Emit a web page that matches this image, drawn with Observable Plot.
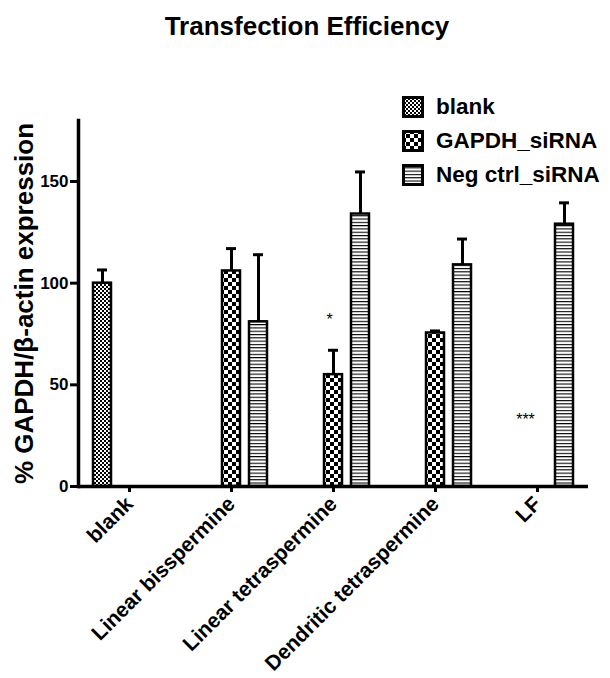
<!DOCTYPE html>
<html>
<head>
<meta charset="utf-8">
<script src="https://cdn.jsdelivr.net/npm/d3@7"></script>
<script src="https://cdn.jsdelivr.net/npm/@observablehq/plot@0.6"></script>
<style>
  html, body { margin: 0; padding: 0; background: white; }
  body { width: 610px; height: 678px; overflow: hidden; font-family: "Liberation Sans", Arial, sans-serif; }
  #title { height: 70px; box-sizing: border-box; padding-top: 13px; text-align: center; font-size: 26px; line-height: 26px; font-weight: bold; color: #000; padding-left: 4px; }
  #chart { position: relative; width: 610px; height: 608px; }
  #legend .row { position: absolute; left: 402px; height: 22px; display: flex; align-items: center; white-space: nowrap; }
  #legend .row span { margin-left: 12px; font-size: 22.5px; font-weight: bold; line-height: 22px; }
</style>
</head>
<body>
<svg width="0" height="0" style="position:absolute">
  <defs>
    <pattern id="pat0" patternUnits="userSpaceOnUse" width="4" height="4">
      <rect width="4" height="4" fill="white"/>
      <rect x="0" y="0" width="2" height="2" fill="black"/>
      <rect x="2" y="2" width="2" height="2" fill="black"/>
    </pattern>
    <pattern id="pat1" patternUnits="userSpaceOnUse" width="8" height="8">
      <rect width="8" height="8" fill="white"/>
      <rect x="0" y="0" width="4" height="4" fill="black"/>
      <rect x="4" y="4" width="4" height="4" fill="black"/>
    </pattern>
    <pattern id="pat2" patternUnits="userSpaceOnUse" width="6" height="3.3">
      <rect width="6" height="3.3" fill="white"/>
      <rect x="0" y="0" width="6" height="1.1" fill="black"/>
    </pattern>
  </defs>
</svg>
<div id="title">Transfection Efficiency</div>
<div id="chart"><div id="legend"></div></div>
<script>
// ---- data ----
const categories = ["blank", "Linear bisspermine", "Linear tetraspermine", "Dendritic tetraspermine", "LF"];
const series = ["blank", "GAPDH_siRNA", "Neg ctrl_siRNA"];
const blankValues = [100, null, null, null, null];
const gapdhValues = [null, 106, 55, 75.5, null];
const negValues   = [null, 81, 134, 109, 129];
const blankErr = [6.5, null, null, null, null];
const gapdhErr = [null, 11, 12, 1, null];
const negErr   = [null, 33, 20.7, 12.7, 10.5];
const yTicks = [0, 50, 100, 150];
const annotations = [
  {cat: "Linear tetraspermine", series: "GAPDH_siRNA", y: 82, label: "*"},
  {cat: "LF", series: "GAPDH_siRNA", y: 33, label: "***"}
];

const valueSets = [blankValues, gapdhValues, negValues];
const errSets = [blankErr, gapdhErr, negErr];
const rows = [];
categories.forEach((c, i) => series.forEach((s, j) => {
  const v = valueSets[j][i];
  if (v != null) rows.push({cat: c, series: s, value: v, err: errSets[j][i] || 0});
}));

const font = "'Liberation Sans', Arial, sans-serif";

const plot = Plot.plot({
  width: 610, height: 608,
  marginLeft: 76, marginRight: 20, marginTop: 50, marginBottom: 192,
  style: {fontFamily: font, background: "white", color: "black"},
  fx: {domain: categories, padding: 0, label: null},
  x: {domain: series, paddingInner: 0.32, paddingOuter: 0.5, axis: null},
  y: {domain: [0, 180], axis: null},
  marks: [
    Plot.ruleX(rows, {fx: "cat", x: "series", y1: "value", y2: d => d.value + d.err, stroke: "black", strokeWidth: 3}),
    Plot.tickY(rows, {fx: "cat", x: "series", y: d => d.value + d.err, stroke: "black", strokeWidth: 3, insetLeft: 4, insetRight: 4}),
    ...series.map((s, j) => Plot.barY(rows.filter(d => d.series === s), {
      fx: "cat", x: "series", y: "value", fill: `url(#pat${j})`, stroke: "black", strokeWidth: 2.5
    })),
    Plot.text(annotations.slice(0, 1), {fx: "cat", x: "series", y: "y", text: "label", fontSize: 16, dx: -4}),
    Plot.text(annotations.slice(1), {fx: "cat", x: "series", y: "y", text: "label", fontSize: 16, dx: -12}),
    Plot.ruleY([0], {stroke: "black", strokeWidth: 3.5}),
    Plot.frame({anchor: "left", stroke: "black", strokeWidth: 3.5, facetAnchor: "left"}),
    Plot.axisY({ticks: yTicks, tickSize: 8, tickPadding: 2, fontSize: 17, fontWeight: "bold", strokeWidth: 3,
      label: "% GAPDH/β-actin expression", labelAnchor: "center", labelArrow: "none", labelOffset: 64}),
    Plot.axisFx({anchor: "bottom", tickRotate: -45, tickSize: 6, tickPadding: 8, strokeWidth: 3, fontSize: 21, fontWeight: "bold", label: null})
  ]
});

d3.select(plot).selectAll('g[aria-label="y-axis label"]').attr("font-size", 26);
document.getElementById("chart").prepend(plot);
plot.style.display = "block";

// legend
const legend = d3.select("#legend");
series.forEach((s, j) => {
  const row = legend.append("div").attr("class", "row").style("top", (26 + j * 34) + "px");
  const sw = row.append("svg").attr("width", 22).attr("height", 22);
  sw.append("rect").attr("x", 1.5).attr("y", 1.5).attr("width", 19).attr("height", 19)
    .attr("fill", `url(#pat${j})`).attr("stroke", "black").attr("stroke-width", 3);
  row.append("span").text(s);
});
</script>
</body>
</html>
